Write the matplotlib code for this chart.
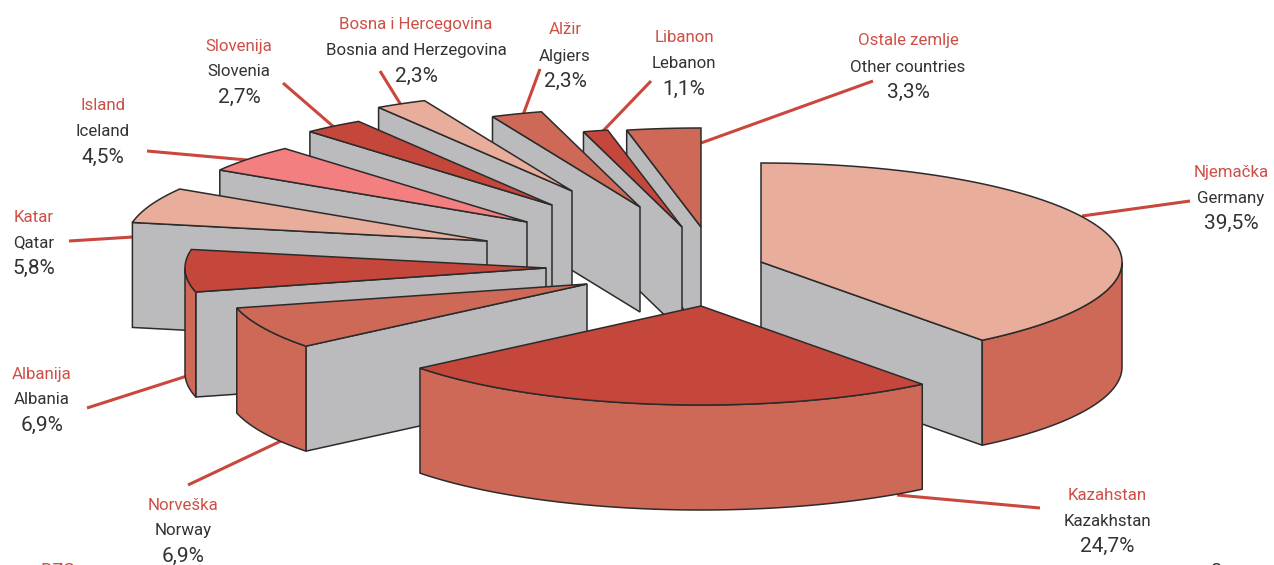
import numpy as np
import matplotlib
matplotlib.use('Agg')
import matplotlib.pyplot as plt
from matplotlib.patches import Polygon

# data
names_hr = ['Njemačka', 'Kazahstan', 'Norveška', 'Albanija', 'Katar', 'Island',
            'Slovenija', 'Bosna i Hercegovina', 'Alžir', 'Libanon', 'Ostale zemlje']
names_en = ['Germany', 'Kazakhstan', 'Norway', 'Albania', 'Qatar', 'Iceland',
            'Slovenia', 'Bosnia and Herzegovina', 'Algiers', 'Lebanon', 'Other countries']
shares = [39.5, 24.7, 6.9, 6.9, 5.8, 4.5, 2.7, 2.3, 2.3, 1.1, 3.3]

# colours
LIGHT = '#e8ad9b'
DARK = '#c5463a'
MID = '#cf6957'
PINK = '#f47f80'
GREY = '#bbbbbd'
EDGE = '#2b2b2b'
RED_TXT = '#cf4f47'
TXT = '#333333'
top_colors = [LIGHT, DARK, MID, DARK, LIGHT, PINK, DARK, LIGHT, MID, DARK, MID]

# layout: where every exploded slice has its tip, in pixels
tip_x = [761, 701, 587, 546, 487, 527, 552, 572, 640, 682, 701]
tip_y = [262, 306, 284, 268, 241, 222, 205, 191, 207, 227, 227]
RX, RY = 361, 99
DEPTH = 105
draw_order = [10, 9, 8, 7, 6, 5, 4, 3, 2, 0, 1]

# label centre x, y of the first line, and leader line
label_x = [1231, 1107, 183, 42, 34, 103, 239, 416, 565, 684, 908]
label_y = [171, 494, 504, 373, 216, 105, 45, 24, 29, 37, 40]
leaders = [((1082, 216), (1190, 201)), ((897, 495), (1040, 508)), ((188, 485), (281, 441)),
           ((87, 408), (187, 376)), ((69, 241), (133, 237)), ((147, 151), (247, 160)),
           ((283, 83), (335, 128)), ((380, 71), (401, 105)), ((540, 69), (523, 115)),
           ((651, 81), (603, 131)), ((873, 81), (701, 143))]

plt.rcParams['font.family'] = ['Roboto', 'DejaVu Sans']

fig = plt.figure(figsize=(12.74, 5.65), dpi=100)
ax = fig.add_axes([0, 0, 1, 1])
ax.set_xlim(0, 1274)
ax.set_ylim(565, 0)
ax.axis('off')


def rim(cx, cy, a, b, drop=0):
    t = np.radians(np.linspace(a, b, max(int(abs(b - a)) * 2, 2)))
    return np.column_stack([cx + RX * np.sin(t), cy - RY * np.cos(t) + drop])


def poly(pts, color, z):
    ax.add_patch(Polygon(pts, closed=True, fc=color, ec=EDGE, lw=1.1, joinstyle='miter', zorder=z))


bounds = np.cumsum([0] + shares) * 3.6

for (p, q) in leaders:
    ax.plot([p[0], q[0]], [p[1], q[1]], color='#c9473c', lw=2.2, zorder=1, solid_capstyle='butt')

z = 2
for i in draw_order:
    a, b = bounds[i], bounds[i + 1]
    cx, cy = tip_x[i], tip_y[i]
    # radial side that looks at us
    edge = None
    if a >= 180:
        edge = a
    elif b <= 180:
        edge = b
    if edge is not None:
        r = rim(cx, cy, edge, edge + 1e-6)[0]
        poly([(cx, cy), r, (r[0], r[1] + DEPTH), (cx, cy + DEPTH)], GREY, z)
        z += 1
    # outer wall, only the front half of the rim
    w0, w1 = max(a, 90), min(b, 270)
    if w1 > w0:
        upper = rim(cx, cy, w0, w1)
        lower = rim(cx, cy, w0, w1, DEPTH)
        poly(np.vstack([upper, lower[::-1]]), MID, z)
        z += 1
    # top
    poly(np.vstack([[(cx, cy)], rim(cx, cy, a, b)]), top_colors[i], z)
    z += 1

for i in range(len(shares)):
    x, y = label_x[i], label_y[i]
    pct = f'{shares[i]:.1f}%'.replace('.', ',')
    ax.text(x, y + 1, names_hr[i], color=RED_TXT, fontsize=12.2, ha='center', va='center', zorder=50)
    ax.text(x, y + 27, names_en[i], color=TXT, fontsize=12.2, ha='center', va='center', zorder=50)
    ax.text(x, y + 52.5, pct, color=TXT, fontsize=15, ha='center', va='center', zorder=50)

# cut off page furniture at the bottom edge
ax.text(58, 571, 'DZS', color=RED_TXT, fontsize=13.5, ha='center', va='center', clip_on=False)
ax.text(1216, 571, '8', color=TXT, fontsize=14, ha='center', va='center', clip_on=False)

fig.savefig('out.png', dpi=100)
